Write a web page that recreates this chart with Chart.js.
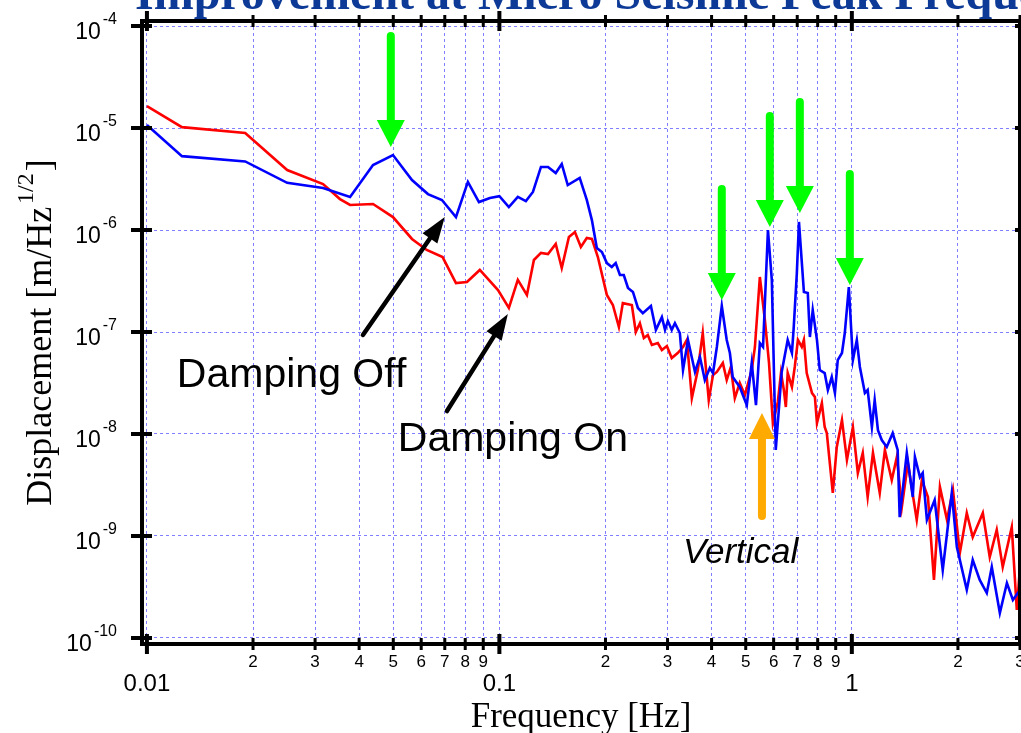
<!DOCTYPE html>
<html>
<head>
<meta charset="utf-8">
<script src="https://cdn.jsdelivr.net/npm/chart.js@4.4.0/dist/chart.umd.min.js"></script>
<style>
html,body{margin:0;padding:0;background:#fff;overflow:hidden}
#wrap{width:1021px;height:733px;position:relative}
canvas{display:block}
</style>
</head>
<body>
<div id="wrap"><canvas id="c" width="1021" height="733"></canvas></div>
<script>
// ---------- data ----------
const seriesNames = ['Damping Off', 'Damping On'];

const offFreq = [0.01,0.01257,0.019,0.025,0.0316,0.0377,0.0438,0.0499,0.0565,0.0627,0.0687,0.0753,0.0814,0.0875,0.094,0.1,0.1064,0.1128,0.1189,0.1245,0.1312,0.1374,0.1445,0.1503,0.1563,0.169,0.177,0.183,0.189,0.1954,0.2018,0.2084,0.2138,0.2198,0.2254,0.2317,0.2393,0.2472,0.2553,0.2691,0.278,0.2891,0.2951,0.3006,0.3083,0.3148,0.3251,0.3319,0.3428,0.3589,0.3707,0.3828,0.3954,0.4037,0.414,0.4276,0.4416,0.4508,0.4592,0.4808,0.5035,0.52,0.5346,0.5483,0.5598,0.5781,0.5929,0.6083,0.6324,0.6577,0.6761,0.6839,0.6982,0.7079,0.7311,0.7499,0.7603,0.7745,0.7962,0.811,0.8375,0.8551,0.877,0.8954,0.912,0.9376,0.955,0.9806,1.007,1.033,1.054,1.089,1.109,1.14,1.161,1.186,1.216,1.256,1.306,1.349,1.367,1.432,1.489,1.51,1.56,1.589,1.633,1.718,1.811,1.921,1.986,2.119,2.203,2.306,2.415,2.495,2.63,2.754,2.864,3.0];
const offDisp = [1.07e-5,5.3e-6,4.7e-6,2.9e-6,2.58e-6,2.11e-6,4.34e-6,5.43e-6,3.09e-6,2.25e-6,1.97e-6,1.34e-6,2.96e-6,1.88e-6,2.06e-6,2.15e-6,1.68e-6,2.11e-6,1.92e-6,2.36e-6,4.15e-6,4.15e-6,3.62e-6,4.44e-6,2.76e-6,3.24e-6,1.97e-6,1.25e-6,6.67e-7,6.08e-7,4.74e-7,4.34e-7,4.74e-7,3.62e-7,3.62e-7,2.7e-7,2.47e-7,1.72e-7,1.53e-7,1.8e-7,1.05e-7,1.4e-7,1.05e-7,1.28e-7,1.05e-7,1.22e-7,9.77e-8,4.24e-8,8.36e-8,4.06e-8,5.69e-8,3.38e-8,4.44e-8,3.96e-8,7.13e-8,1.8e-7,8.36e-8,6.22e-8,3.62e-8,2.89e-8,1.92e-8,4.97e-8,1.92e-8,7.8e-8,7.13e-8,1.0e-6,3.24e-7,6.97e-9,4.06e-8,8.36e-8,6.22e-8,1.09e-7,3.78e-7,1.2e-6,2.47e-7,2.41e-7,8.93e-8,1.64e-7,8.36e-8,4.24e-8,3.96e-8,2.7e-8,3.62e-8,2.52e-8,5.31e-8,6.22e-8,9.77e-8,2.76e-7,5.31e-8,8.36e-8,4.54e-8,2.52e-8,2.7e-8,1.17e-8,2.15e-8,1.09e-8,8.73e-9,7.46e-9,1.02e-8,6.97e-9,1.53e-9,6.52e-9,2.41e-9,5.96e-9,3.78e-9,4.15e-9,1.44e-9,2.25e-9,4.65e-10,2.64e-9,7.8e-10,2.96e-10,5.82e-10,3.71e-10,2.76e-10,4.97e-10,1.76e-10,3.46e-10,2.36e-10,2.96e-10];

const onFreq = [0.01,0.01257,0.019,0.025,0.0316,0.0353,0.0377,0.0438,0.0499,0.0565,0.0622,0.069,0.0753,0.0809,0.088,0.0991,0.1064,0.1128,0.1197,0.1253,0.1312,0.1374,0.1445,0.1503,0.1575,0.1638,0.1703,0.177,0.183,0.1903,0.2018,0.2099,0.2183,0.224,0.2376,0.2438,0.2504,0.257,0.2637,0.2708,0.2815,0.2891,0.2987,0.3083,0.3206,0.3319,0.3404,0.3516,0.3656,0.3776,0.3927,0.4037,0.414,0.4305,0.4416,0.4536,0.4656,0.4808,0.4972,0.52,0.5309,0.5483,0.5667,0.5821,0.597,0.6166,0.6295,0.6414,0.6498,0.6577,0.6761,0.6887,0.7031,0.7211,0.7311,0.7447,0.7709,0.7856,0.7962,0.8222,0.8375,0.8492,0.883,0.9063,0.9376,0.9685,1.007,1.04,1.074,1.109,1.148,1.2,1.241,1.298,1.342,1.386,1.442,1.528,1.58,1.644,1.71,1.778,1.862,1.936,2.025,2.119,2.203,2.353,2.462,2.577,2.68,2.843,2.938,3.0];
const onDisp = [1.64e-5,1.02e-5,8.93e-6,3.87e-6,2.82e-6,2.01e-6,1.76e-6,1.8e-6,1.34e-6,8.17e-7,6.37e-7,5.43e-7,3.02e-7,3.09e-7,4.06e-7,2.58e-7,1.72e-7,3.24e-7,2.31e-7,5.08e-7,5.96e-7,5.82e-7,7.29e-7,4.24e-7,8.53e-7,9.55e-7,6.81e-7,8.36e-7,8.17e-7,5.43e-7,2.31e-7,1.84e-7,1.12e-7,1.92e-7,1.84e-7,1.0e-7,1.22e-7,8.73e-8,9.35e-8,7.46e-8,7.8e-8,6.67e-8,7.29e-8,5.56e-8,6.22e-8,7.13e-8,8.36e-8,2.25e-8,4.24e-8,9.77e-8,2.15e-8,3.78e-8,4.06e-8,4.97e-8,3.38e-8,4.54e-8,2.25e-8,3.16e-8,2.41e-8,4.24e-8,7.13e-8,3.46e-7,1.31e-7,4.97e-8,1.28e-8,2.06e-8,3.96e-8,2.7e-8,1.84e-8,3.96e-8,2.89e-8,4.54e-8,8.36e-8,7.13e-8,8.36e-8,3.96e-8,2.52e-8,2.31e-8,1.28e-8,2.01e-8,1.17e-8,1.02e-8,2.64e-9,7.46e-9,1.37e-8,5.56e-9,1.17e-8,4.15e-9,6.52e-9,2.41e-9,6.52e-9,2.64e-9,6.97e-9,3.54e-9,5.96e-9,1.92e-9,5.2e-9,1.44e-9,3.54e-9,2.41e-9,3.71e-10,3.02e-9,1.44e-9,2.82e-9,6.81e-10,1.68e-9,9.77e-10,1.68e-9,6.22e-10,1.15e-9,4.97e-10,1.22e-9,1.88e-10,4.97e-10];

const xTickValues = [0.01,0.02,0.03,0.04,0.05,0.06,0.07,0.08,0.09,0.1,0.2,0.3,0.4,0.5,0.6,0.7,0.8,0.9,1,2,3];
const xTickLabels = ['0.01','2','3','4','5','6','7','8','9','0.1','2','3','4','5','6','7','8','9','1','2','3'];
const xMajorValues = [0.01,0.1,1];
const yTickValues = [1e-10,1e-9,1e-8,1e-7,1e-6,1e-5,1e-4];
const yTickExponents = ['-10','-9','-8','-7','-6','-5','-4'];

const titleText = 'Improvement at Micro Seismic Peak Frequencies';
const xTitle = 'Frequency [Hz]';
const yTitleMain = 'Displacement [m/Hz';
const yTitleSup = '1/2';
const yTitleEnd = ']';

// annotations (data coordinates)
const greenArrowFreq = [0.0492, 0.4276, 0.5852, 0.712, 0.987];
const greenArrowTop  = [7.98e-5, 2.52e-6, 1.31e-5, 1.80e-5, 3.54e-6];
const greenArrowTip  = [6.52e-6, 2.06e-7, 1.07e-6, 1.47e-6, 2.89e-7];
const orangeArrowFreq = [0.5559];
const orangeArrowBottom = [1.57e-9];
const orangeArrowTip = [1.61e-8];
const blackArrowFromFreq = [0.0410, 0.0710];
const blackArrowFromDisp = [9.35e-8, 1.68e-8];
const blackArrowToFreq = [0.0700, 0.1057];
const blackArrowToDisp = [1.34e-6, 1.50e-7];
const noteText = ['Damping Off', 'Damping On', 'Vertical'];
const noteFreq = [0.01216, 0.0515, 0.3316];
const noteDisp = [2.89e-8, 6.81e-9, 5.43e-10];
const noteItalic = [false, false, true];

// ---------- drawing ----------
const SANS = '"Liberation Sans", Arial, sans-serif';
const SERIF = '"Liberation Serif", "Times New Roman", serif';

function toXY(fr, dv) { return fr.map((f, i) => ({x: f, y: dv[i]})); }

function arrow(ctx, x1, y1, x2, y2, lw, headLen, headHalf, color, cap) {
  const ang = Math.atan2(y2 - y1, x2 - x1);
  const bx = x2 - headLen * Math.cos(ang), by = y2 - headLen * Math.sin(ang);
  ctx.strokeStyle = color; ctx.fillStyle = color;
  ctx.lineWidth = lw; ctx.lineCap = cap;
  ctx.beginPath(); ctx.moveTo(x1, y1); ctx.lineTo(bx + 2 * Math.cos(ang), by + 2 * Math.sin(ang)); ctx.stroke();
  ctx.beginPath();
  ctx.moveTo(x2, y2);
  ctx.lineTo(bx + headHalf * Math.sin(ang), by - headHalf * Math.cos(ang));
  ctx.lineTo(bx - headHalf * Math.sin(ang), by + headHalf * Math.cos(ang));
  ctx.closePath(); ctx.fill();
}

const deco = {
  id: 'deco',
  afterDraw(chart) {
    const ctx = chart.ctx, xs = chart.scales.x, ys = chart.scales.y, a = chart.chartArea;
    ctx.save();

    // annotations
    greenArrowFreq.forEach((f, i) => {
      const px = xs.getPixelForValue(f);
      arrow(ctx, px, ys.getPixelForValue(greenArrowTop[i]), px, ys.getPixelForValue(greenArrowTip[i]), 8, 27, 14, '#00ff00', 'round');
    });
    orangeArrowFreq.forEach((f, i) => {
      const px = xs.getPixelForValue(f);
      arrow(ctx, px, ys.getPixelForValue(orangeArrowBottom[i]), px, ys.getPixelForValue(orangeArrowTip[i]), 8, 26, 13, '#ffaa00', 'round');
    });
    blackArrowFromFreq.forEach((f, i) => {
      arrow(ctx, xs.getPixelForValue(f), ys.getPixelForValue(blackArrowFromDisp[i]),
        xs.getPixelForValue(blackArrowToFreq[i]), ys.getPixelForValue(blackArrowToDisp[i]), 4.5, 26, 9, '#000', 'round');
    });
    ctx.fillStyle = '#000'; ctx.textAlign = 'left'; ctx.textBaseline = 'alphabetic';
    noteText.forEach((t, i) => {
      ctx.font = noteItalic[i] ? 'italic 35px ' + SANS : '41px ' + SANS;
      ctx.fillText(t, xs.getPixelForValue(noteFreq[i]), ys.getPixelForValue(noteDisp[i]));
    });

    // frame
    ctx.strokeStyle = '#000'; ctx.lineWidth = 4; ctx.lineCap = 'butt';
    ctx.strokeRect(a.left, a.top, a.right - a.left, a.bottom - a.top);

    // x ticks + labels
    xs.ticks.forEach(t => {
      const px = xs.getPixelForValue(t.value);
      const idx = xTickValues.indexOf(t.value);
      const major = xMajorValues.includes(t.value);
      const L = major ? 10 : 6;
      ctx.lineWidth = major ? 4 : 3;
      ctx.beginPath();
      ctx.moveTo(px, a.bottom - L); ctx.lineTo(px, a.bottom + L);
      ctx.moveTo(px, a.top - L); ctx.lineTo(px, a.top + L);
      ctx.stroke();
      ctx.textAlign = 'center';
      if (major) { ctx.font = '24px ' + SANS; ctx.fillText(xTickLabels[idx], px, a.bottom + 47); }
      else { ctx.font = '17px ' + SANS; ctx.fillText(xTickLabels[idx], px, a.bottom + 23); }
    });

    // y ticks + labels
    ys.ticks.forEach(t => {
      const py = ys.getPixelForValue(t.value);
      ctx.lineWidth = 4;
      ctx.beginPath();
      ctx.moveTo(a.left - 11, py); ctx.lineTo(a.left + 10, py);
      ctx.moveTo(a.right - 5, py); ctx.lineTo(a.right + 3, py);
      ctx.stroke();
      const exp = yTickExponents[yTickValues.indexOf(t.value)];
      ctx.textAlign = 'right';
      ctx.font = '16px ' + SANS;
      const w = ctx.measureText(exp).width;
      ctx.fillText(exp, 117, py - 2);
      ctx.font = '23px ' + SANS;
      ctx.fillText('10', 117 - w - 2, py + 13);
    });

    // axis titles
    ctx.textAlign = 'center'; ctx.font = '35px ' + SERIF;
    ctx.fillText(xTitle, (a.left + a.right) / 2, 727);

    ctx.save();
    ctx.translate(51, (a.top + a.bottom) / 2);
    ctx.rotate(-Math.PI / 2);
    ctx.textAlign = 'left';
    ctx.font = '36px ' + SERIF; const w1 = ctx.measureText(yTitleMain).width; const w3 = ctx.measureText(yTitleEnd).width;
    ctx.font = '24px ' + SERIF; const w2 = ctx.measureText(yTitleSup).width;
    const total = w1 + 3 + w2 + 2 + w3;
    const x0 = -total / 2;
    ctx.font = '36px ' + SERIF; ctx.fillText(yTitleMain, x0, 0);
    ctx.font = '24px ' + SERIF; ctx.fillText(yTitleSup, x0 + w1 + 3, -18);
    ctx.font = '36px ' + SERIF; ctx.fillText(yTitleEnd, x0 + w1 + 3 + w2 + 2, 0);
    ctx.restore();

    // cropped slide title
    ctx.fillStyle = '#0d3a96'; ctx.textAlign = 'left'; ctx.font = 'bold 48px ' + SERIF;
    ctx.fillText(titleText, 135, 9);

    ctx.restore();
  }
};

new Chart(document.getElementById('c'), {
  type: 'line',
  data: {
    datasets: [
      {label: seriesNames[0], data: toXY(offFreq, offDisp), borderColor: '#0000ff', borderWidth: 2.6, pointRadius: 0, tension: 0, fill: false},
      {label: seriesNames[1], data: toXY(onFreq, onDisp), borderColor: '#ff0000', borderWidth: 2.6, pointRadius: 0, tension: 0, fill: false}
    ]
  },
  options: {
    responsive: false, animation: false, devicePixelRatio: 1,
    layout: {padding: {left: 0, right: 1, top: 21, bottom: 0}},
    plugins: {legend: {display: false}, tooltip: {enabled: false}, title: {display: false}},
    scales: {
      x: {
        type: 'logarithmic', min: 0.009683, max: 3,
        afterBuildTicks: s => { s.ticks = xTickValues.map(v => ({value: v, major: xMajorValues.includes(v)})); },
        afterFit: s => { s.height = 89; },
        ticks: {display: false, autoSkip: false},
        grid: {color: 'rgba(95,95,255,0.8)', lineWidth: 1, drawTicks: false},
        border: {display: false, dash: [3, 3]}
      },
      y: {
        type: 'logarithmic', min: 8.73e-11, max: 1.12e-4,
        afterBuildTicks: s => { s.ticks = yTickValues.map(v => ({value: v, major: true})); },
        afterFit: s => { s.width = 142; },
        ticks: {display: false, autoSkip: false},
        grid: {color: 'rgba(95,95,255,0.8)', lineWidth: 1, drawTicks: false},
        border: {display: false, dash: [3, 3]}
      }
    }
  },
  plugins: [deco]
});
</script>
</body>
</html>
